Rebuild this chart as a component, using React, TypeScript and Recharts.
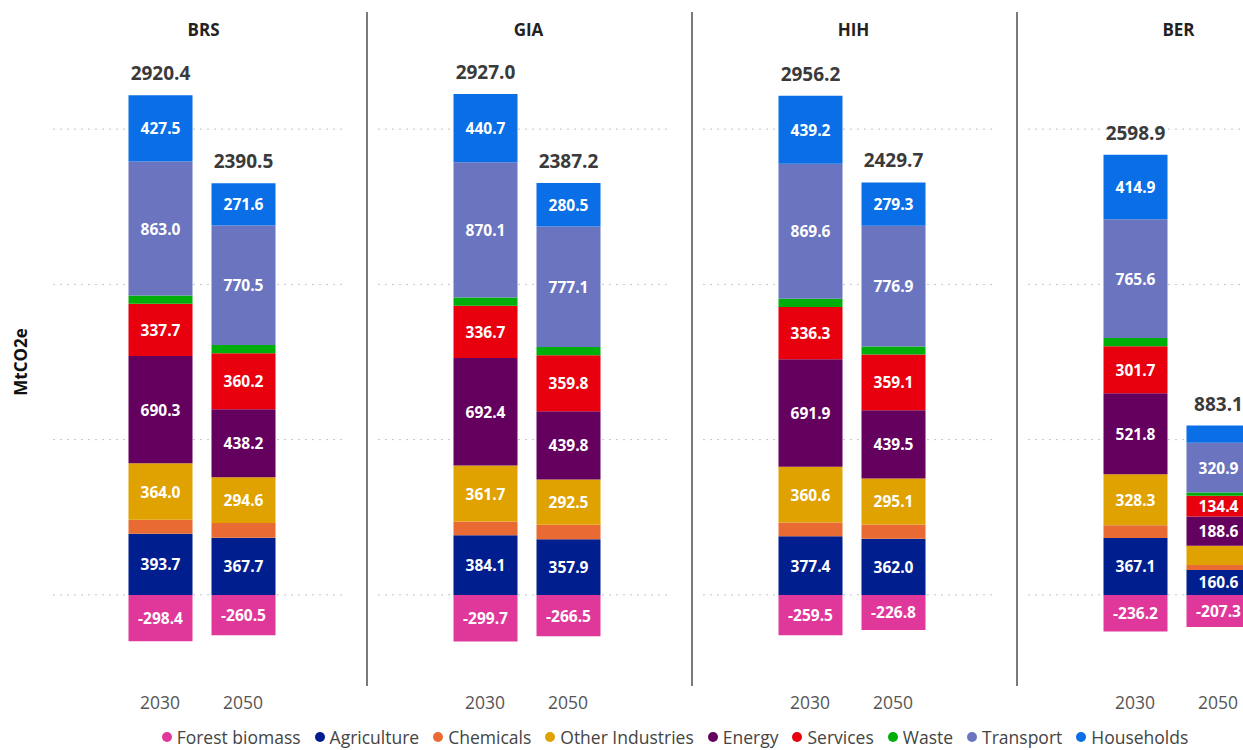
import React from 'react';
import { BarChart, Bar, XAxis, YAxis, CartesianGrid, LabelList } from 'recharts';

const scenarios = ['BRS', 'GIA', 'HIH', 'BER'];
const years = ['2030', '2050'];

// values per bar: BRS2030, BRS2050, GIA2030, GIA2050, HIH2030, HIH2050, BER2030, BER2050
const forestBiomass = [-298.4, -260.5, -299.7, -266.5, -259.5, -226.8, -236.2, -207.3];
const agriculture = [393.7, 367.7, 384.1, 357.9, 377.4, 362.0, 367.1, 160.6];
const chemicals = [90, 95, 88, 93, 88, 92, 82, 32.4];
const otherIndustries = [364.0, 294.6, 361.7, 292.5, 360.6, 295.1, 328.3, 123];
const energy = [690.3, 438.2, 692.4, 439.8, 691.9, 439.5, 521.8, 188.6];
const services = [337.7, 360.2, 336.7, 359.8, 336.3, 359.1, 301.7, 134.4];
const waste = [52.6, 53.2, 53.0, 53.1, 52.7, 52.6, 53.7, 20];
const transport = [863.0, 770.5, 870.1, 777.1, 869.6, 776.9, 765.6, 320.9];
const households = [427.5, 271.6, 440.7, 280.5, 439.2, 279.3, 414.9, 110.5];
const totals = [2920.4, 2390.5, 2927.0, 2387.2, 2956.2, 2429.7, 2598.9, 883.1];

const yTicks = [0, 1000, 2000, 3000];

const series = [
  { key: 'forest', name: 'Forest biomass', color: '#E0389A', values: forestBiomass },
  { key: 'agriculture', name: 'Agriculture', color: '#001E8E', values: agriculture },
  { key: 'chemicals', name: 'Chemicals', color: '#E96B33', values: chemicals },
  { key: 'other', name: 'Other Industries', color: '#DFA200', values: otherIndustries },
  { key: 'energy', name: 'Energy', color: '#64005E', values: energy },
  { key: 'services', name: 'Services', color: '#E8000E', values: services },
  { key: 'waste', name: 'Waste', color: '#00AE0A', values: waste },
  { key: 'transport', name: 'Transport', color: '#6B74BF', values: transport },
  { key: 'households', name: 'Households', color: '#0A6FE6', values: households },
];

const FONT = '"Open Sans", "Noto Sans", sans-serif';

function buildPanel(si: number) {
  return years.map((yr, yi) => {
    const idx = si * 2 + yi;
    const row: any = { year: yr, total: totals[idx] };
    series.forEach((s) => {
      row[s.key] = s.values[idx];
    });
    return row;
  });
}

const SegmentLabel = (props: any) => {
  const { x, y, width, height, value } = props;
  let v = value;
  if (Array.isArray(v)) v = v[1] - v[0];
  if (typeof v !== 'number' || Math.abs(height) < 20) return null;
  return (
    <text
      x={x + width / 2}
      y={y + height / 2}
      textAnchor="middle"
      dominantBaseline="central"
      fill="#ffffff"
      fontFamily={FONT}
      fontWeight={700}
      fontSize={15.5}
    >
      {v.toFixed(1)}
    </text>
  );
};

const makeTotalLabel = (data: any[]) => (props: any) => {
  const { x, y, width, height, index } = props;
  const top = Math.min(y, y + height);
  return (
    <text
      x={x + width / 2}
      y={top - 15}
      textAnchor="middle"
      fill="#3a3a3a"
      fontFamily={FONT}
      fontWeight={700}
      fontSize={19}
    >
      {data[index].total.toFixed(1)}
    </text>
  );
};

const PANEL_W = 325;

function Panel({ si }: { si: number }) {
  const data = buildPanel(si);
  return (
    <div style={{ position: 'relative', width: PANEL_W, height: 720 }}>
      {si > 0 && (
        <div
          style={{
            position: 'absolute',
            left: 0,
            top: 12,
            width: 1.5,
            height: 674,
            background: '#7a7a7a',
          }}
        />
      )}
      <div
        style={{
          position: 'absolute',
          left: 0,
          width: PANEL_W,
          top: 18,
          textAlign: 'center',
          fontFamily: FONT,
          fontWeight: 700,
          fontSize: 17,
          color: '#222',
          lineHeight: '24px',
        }}
      >
        {scenarios[si]}
      </div>
      <BarChart
        width={PANEL_W}
        height={720}
        data={data}
        stackOffset="sign"
        margin={{ top: 51.5, right: 19, bottom: 0, left: 12 }}
        barCategoryGap={0}
      >
        <CartesianGrid
          vertical={false}
          strokeDasharray="2 5"
          stroke="#c4c4c4"
          horizontalValues={yTicks}
        />
        <XAxis
          dataKey="year"
          axisLine={false}
          tickLine={false}
          height={47.5}
          tickMargin={18}
          padding={{ left: 65.5, right: 62.5 }}
          tick={{ fontSize: 17.5, fill: '#555', fontFamily: FONT }}
        />
        <YAxis hide domain={[-500, 3500]} ticks={yTicks} allowDataOverflow />
        {series.map((s, i) => (
          <Bar
            key={s.key}
            dataKey={s.key}
            name={s.name}
            stackId="a"
            fill={s.color}
            barSize={64}
            isAnimationActive={false}
          >
            {s.key !== 'chemicals' && s.key !== 'waste' && (
              <LabelList dataKey={s.key} content={SegmentLabel} />
            )}
            {i === series.length - 1 && (
              <LabelList dataKey="total" content={makeTotalLabel(data)} />
            )}
          </Bar>
        ))}
      </BarChart>
    </div>
  );
}

export default function App() {
  return (
    <div
      style={{
        position: 'fixed',
        left: 0,
        top: 0,
        width: 1243,
        height: 750,
        overflow: 'hidden',
        background: '#fff',
      }}
    >
      <div style={{ position: 'relative', width: 1350, height: 750 }}>
        <svg width={40} height={750} style={{ position: 'absolute', left: 0, top: 0 }}>
          <text
            x={20}
            y={362}
            transform="rotate(-90 20 362)"
            textAnchor="middle"
            dominantBaseline="central"
            fontFamily={FONT}
            fontWeight={700}
            fontSize={17}
            fill="#111"
          >
            MtCO2e
          </text>
        </svg>
        <div style={{ position: 'absolute', left: 41, top: 0, display: 'flex' }}>
          {scenarios.map((_, si) => (
            <Panel key={si} si={si} />
          ))}
        </div>
        <div
          style={{
            position: 'absolute',
            left: 0,
            width: 1350,
            top: 727,
            height: 20,
            display: 'flex',
            justifyContent: 'center',
            alignItems: 'center',
            fontFamily: FONT,
            fontSize: 17.5,
            color: '#444',
            lineHeight: '20px',
            whiteSpace: 'nowrap',
          }}
        >
          {series.map((s, i) => (
            <div
              key={s.key}
              style={{
                display: 'flex',
                alignItems: 'center',
                marginRight: i === series.length - 1 ? 0 : 14,
              }}
            >
              <span
                style={{
                  display: 'inline-block',
                  width: 10,
                  height: 10,
                  borderRadius: 5,
                  background: s.color,
                  marginRight: 5,
                }}
              />
              <span>{s.name}</span>
            </div>
          ))}
        </div>
      </div>
    </div>
  );
}
